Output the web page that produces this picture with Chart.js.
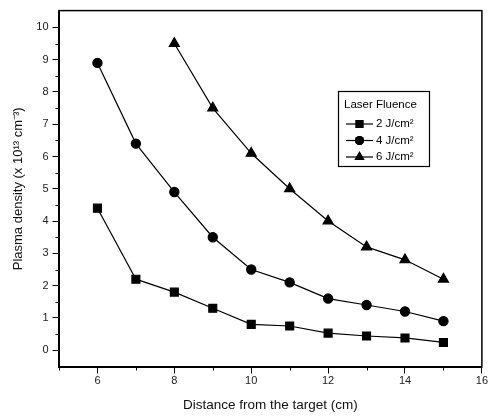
<!DOCTYPE html>
<html>
<head>
<meta charset="utf-8">
<script src="https://cdn.jsdelivr.net/npm/chart.js@4/dist/chart.umd.min.js"></script>
<style>
  html, body { margin: 0; padding: 0; background: #fff; }
  #wrap { width: 489px; height: 418px; }
</style>
</head>
<body>
<div id="wrap"><canvas id="chart" width="489" height="418"></canvas></div>
<script>
/* ── data ── */
const distances = [6, 7, 8, 9, 10, 11, 12, 13, 14, 15];
const fluence2  = [4.4, 2.2, 1.8, 1.3, 0.8, 0.75, 0.53, 0.44, 0.38, 0.24];
const fluence4  = [8.9, 6.4, 4.9, 3.5, 2.5, 2.1, 1.6, 1.4, 1.2, 0.9];
const fluence6  = [null, null, 9.5, 7.5, 6.1, 5.0, 4.0, 3.2, 2.8, 2.2];
const seriesLabels = ['2 J/cm\u00B2', '4 J/cm\u00B2', '6 J/cm\u00B2'];
const xTicks = [6, 8, 10, 12, 14, 16];
const yTicks = [0, 1, 2, 3, 4, 5, 6, 7, 8, 9, 10];

const FONT = 'Arial, "Liberation Sans", Helvetica, sans-serif';

function series(label, values, style) {
  const radius = { rect: 5.6, circle: 4.6, triangle: 5.8 }[style];
  return {
    label,
    data: distances.map((x, i) => ({ x, y: values[i] })),
    borderColor: '#000', backgroundColor: '#000',
    borderWidth: 1.2, pointStyle: style,
    pointRadius: radius,
    showLine: true, spanGaps: false,
  };
}

/* ── minor ticks, frame and in-plot legend ── */
const framePlugin = {
  id: 'frame',
  afterDraw(chart) {
    const { ctx, chartArea: a, scales: { x, y } } = chart;
    ctx.save();
    ctx.strokeStyle = '#000';
    ctx.lineWidth = 1;
    ctx.beginPath();
    // y minor ticks (half units)
    for (let v = -0.5; v <= 10.5; v += 1) {
      const py = Math.round(y.getPixelForValue(v)) + 0.5;
      if (py < a.top + 2 || py > a.bottom - 2) continue;
      ctx.moveTo(a.left - 3.5, py); ctx.lineTo(a.left, py);
    }
    // x minor ticks (odd units)
    for (let v = 5; v <= 16; v += 2) {
      const px = Math.round(x.getPixelForValue(v)) + 0.5;
      ctx.moveTo(px, a.bottom); ctx.lineTo(px, a.bottom + 3.5);
    }
    ctx.stroke();

    ctx.lineWidth = 1.5;
    ctx.strokeRect(a.left, a.top, a.right - a.left, a.bottom - a.top);
    ctx.lineWidth = 2;
    ctx.beginPath();
    ctx.moveTo(a.left, a.top); ctx.lineTo(a.left, a.bottom); ctx.lineTo(a.right, a.bottom);
    ctx.stroke();

    // legend box
    const bx = 338, by = 91, bw = 91, bh = 75;
    ctx.lineWidth = 1.2;
    ctx.strokeRect(bx + 0.5, by + 0.5, bw, bh);
    ctx.fillStyle = '#000';
    ctx.font = '11.5px ' + FONT;
    ctx.textBaseline = 'middle';
    ctx.fillText('Laser Fluence', bx + 6, by + 14);
    chart.data.datasets.forEach((ds, i) => {
      const ly = by + 33 + i * 16.5;
      ctx.lineWidth = 1.2;
      ctx.beginPath();
      ctx.moveTo(bx + 8, ly); ctx.lineTo(bx + 35, ly);
      ctx.stroke();
      Chart.helpers.drawPoint(ctx, {
        pointStyle: ds.pointStyle,
        radius: ds.pointRadius,
        rotation: 0, borderWidth: 0,
      }, bx + 21.5, ly);
      ctx.fill();
      ctx.fillText(ds.label, bx + 38, ly);
    });
    ctx.restore();
  }
};

new Chart(document.getElementById('chart'), {
  type: 'scatter',
  data: {
    datasets: [
      series(seriesLabels[0], fluence2, 'rect'),
      series(seriesLabels[1], fluence4, 'circle'),
      series(seriesLabels[2], fluence6, 'triangle'),
    ]
  },
  options: {
    responsive: false, animation: false,
    layout: { padding: { top: 9, right: 6, left: 0, bottom: 0 } },
    plugins: { legend: { display: false }, tooltip: { enabled: false } },
    scales: {
      x: {
        type: 'linear', min: 5, max: 16,
        afterBuildTicks: s => { s.ticks = xTicks.map(v => ({ value: v })); },
        afterFit: s => { s.height = 51; },
        border: { display: false },
        grid: { drawOnChartArea: false, tickLength: 6.5, color: '#000', tickColor: '#000' },
        ticks: { color: '#222', font: { family: FONT, size: 11 }, padding: 1, maxRotation: 0 },
        title: { display: true, text: 'Distance from the target (cm)', color: '#111',
                 font: { family: FONT, size: 13.5 }, padding: { top: 0, bottom: 5 } }
      },
      y: {
        type: 'linear', min: -0.52, max: 10.52,
        afterBuildTicks: s => { s.ticks = yTicks.map(v => ({ value: v })); },
        afterFit: s => { s.width = 59; },
        border: { display: false },
        grid: { drawOnChartArea: false, tickLength: 6.5, color: '#000', tickColor: '#000' },
        ticks: { color: '#222', font: { family: FONT, size: 11 }, padding: 4 },
        title: { display: true, text: 'Plasma density (x 10\u00B9\u00B3 cm\u207B\u00B3)', color: '#111',
                 font: { family: FONT, size: 13 }, padding: { top: 11, bottom: 0 } }
      }
    }
  },
  plugins: [framePlugin]
});
</script>
</body>
</html>
